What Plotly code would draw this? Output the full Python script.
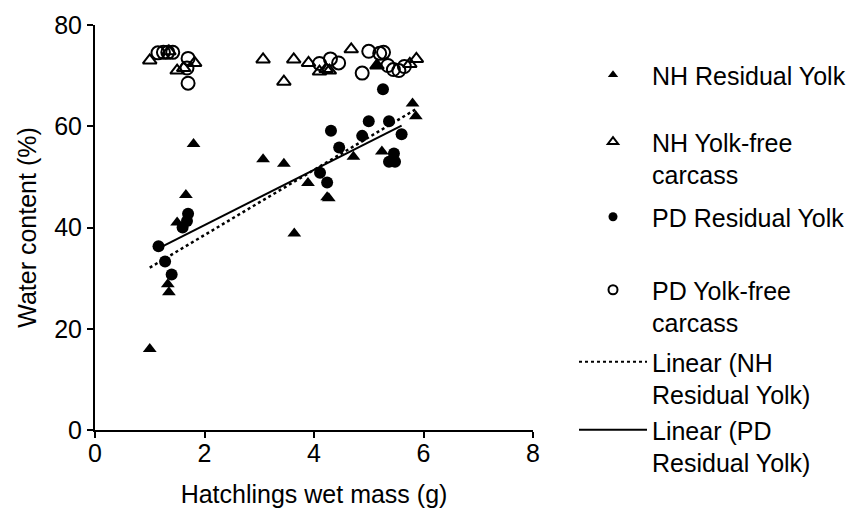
import numpy as np
import plotly.graph_objects as go

# ---- data ----
nh_res_x = [1.0, 1.33, 1.35, 1.5, 1.66, 1.8, 3.07, 3.45, 3.64, 3.89, 4.24, 4.27, 4.72, 5.15, 5.24, 5.8, 5.86]
nh_res_y = [16.0, 28.8, 27.2, 41.0, 46.4, 56.5, 53.5, 52.6, 38.8, 48.8, 46.0, 45.8, 54.0, 72.0, 55.0, 64.5, 62.0]

nh_free_x = [1.0, 1.35, 1.5, 1.62, 1.82, 3.07, 3.45, 3.63, 3.9, 4.1, 4.22, 4.28, 4.68, 5.15, 5.75, 5.87]
nh_free_y = [73.0, 74.8, 71.0, 71.5, 72.5, 73.2, 68.8, 73.2, 72.5, 70.8, 71.3, 71.0, 75.2, 72.0, 72.3, 73.3]

pd_res_x = [1.16, 1.28, 1.40, 1.60, 1.68, 1.70, 4.11, 4.24, 4.31, 4.46, 4.88, 5.0, 5.26, 5.37, 5.37, 5.46, 5.48, 5.6]
pd_res_y = [36.3, 33.3, 30.7, 40.0, 41.3, 42.7, 50.8, 48.9, 59.1, 55.8, 58.1, 61.0, 67.3, 61.0, 53.0, 54.6, 53.0, 58.4]

pd_free_x = [1.15, 1.25, 1.33, 1.42, 1.7, 1.68, 1.7, 4.1, 4.3, 4.45, 4.88, 5.0, 5.2, 5.27, 5.35, 5.45, 5.55, 5.65]
pd_free_y = [74.5, 74.6, 74.6, 74.6, 73.4, 71.5, 68.5, 72.4, 73.3, 72.5, 70.5, 74.8, 74.4, 74.6, 72.0, 71.2, 71.0, 71.8]

legend_names = ["NH Residual Yolk", "NH Yolk-free<br>carcass", "PD Residual Yolk",
                "PD Yolk-free<br>carcass", "Linear (NH<br>Residual Yolk)", "Linear (PD<br>Residual Yolk)"]

FONT = "Liberation Sans, Arial, sans-serif"
FS = 25

def fit_line(xs, ys):
    xs = np.array(xs); ys = np.array(ys)
    m, b = np.polyfit(xs, ys, 1)
    xx = np.array([xs.min(), xs.max()])
    return xx, m * xx + b

fig = go.Figure()

# data traces (no legend)
fig.add_trace(go.Scatter(x=nh_res_x, y=nh_res_y, mode="markers", showlegend=False,
                         marker=dict(symbol="triangle-up", size=12, color="black")))
fig.add_trace(go.Scatter(x=nh_free_x, y=nh_free_y, mode="markers", showlegend=False,
                         marker=dict(symbol="triangle-up-open", size=12, color="black",
                                     line=dict(width=2, color="black"))))
fig.add_trace(go.Scatter(x=pd_res_x, y=pd_res_y, mode="markers", showlegend=False,
                         marker=dict(symbol="circle", size=12, color="black")))
fig.add_trace(go.Scatter(x=pd_free_x, y=pd_free_y, mode="markers", showlegend=False,
                         marker=dict(symbol="circle-open", size=13, color="black",
                                     line=dict(width=2, color="black"))))
fx, fy = fit_line(nh_res_x, nh_res_y)
fig.add_trace(go.Scatter(x=fx, y=fy, mode="lines", showlegend=False,
                         line=dict(color="black", width=2.5, dash="dot")))
fx, fy = fit_line(pd_res_x, pd_res_y)
fig.add_trace(go.Scatter(x=fx, y=fy, mode="lines", showlegend=False,
                         line=dict(color="black", width=2)))

# legend entries (each in its own legend so they can be spaced like the original)
leg_styles = [
    dict(mode="markers", marker=dict(symbol="triangle-up", size=9, color="black")),
    dict(mode="markers", marker=dict(symbol="triangle-up-open", size=9, color="black", line=dict(width=2, color="black"))),
    dict(mode="markers", marker=dict(symbol="circle", size=9, color="black")),
    dict(mode="markers", marker=dict(symbol="circle-open", size=9, color="black", line=dict(width=2, color="black"))),
    dict(mode="lines", line=dict(color="black", width=2, dash="dot")),
    dict(mode="lines", line=dict(color="black", width=2)),
]
leg_centers = [75, 142, 217, 290, 362, 430]
layout_legends = {}
for i, (name, st) in enumerate(zip(legend_names, leg_styles)):
    key = "legend" if i == 0 else f"legend{i+1}"
    fig.add_trace(go.Scatter(x=[None], y=[None], name=name, showlegend=True, legend=key, **st))
    layout_legends[key] = dict(
        xref="container", yref="container",
        x=574 / 860, y=1 - (leg_centers[i] - 23) / 508,
        xanchor="left", yanchor="top",
        bgcolor="rgba(0,0,0,0)", itemwidth=68, valign="top",
        font=dict(family=FONT, size=FS, color="black"),
    )

axis_common = dict(showgrid=False, zeroline=False, showline=True, linecolor="black", linewidth=2,
                   tickfont=dict(family=FONT, size=FS, color="black"))

fig.update_layout(
    width=860, height=508,
    margin=dict(l=95, r=327, t=25, b=78),
    paper_bgcolor="white", plot_bgcolor="white",
    font=dict(family=FONT, size=FS, color="black"),
    xaxis=dict(range=[0, 8], dtick=2, ticks="", automargin=False,
               minor=dict(ticks="outside", ticklen=6, tickwidth=2, tickcolor="black",
                          dtick=2, tick0=0.0001, showgrid=False),
               title=dict(text="Hatchlings wet mass (g)",
                          font=dict(family=FONT, size=FS, color="black"), standoff=20),
               **axis_common),
    yaxis=dict(range=[0, 80], dtick=20, ticks="outside", ticklen=6, tickwidth=2, tickcolor="black",
               automargin=False,
               title=dict(text="Water content (%)",
                          font=dict(family=FONT, size=FS, color="black"), standoff=10),
               **axis_common),
    **layout_legends,
)

fig.write_html("out.html")
